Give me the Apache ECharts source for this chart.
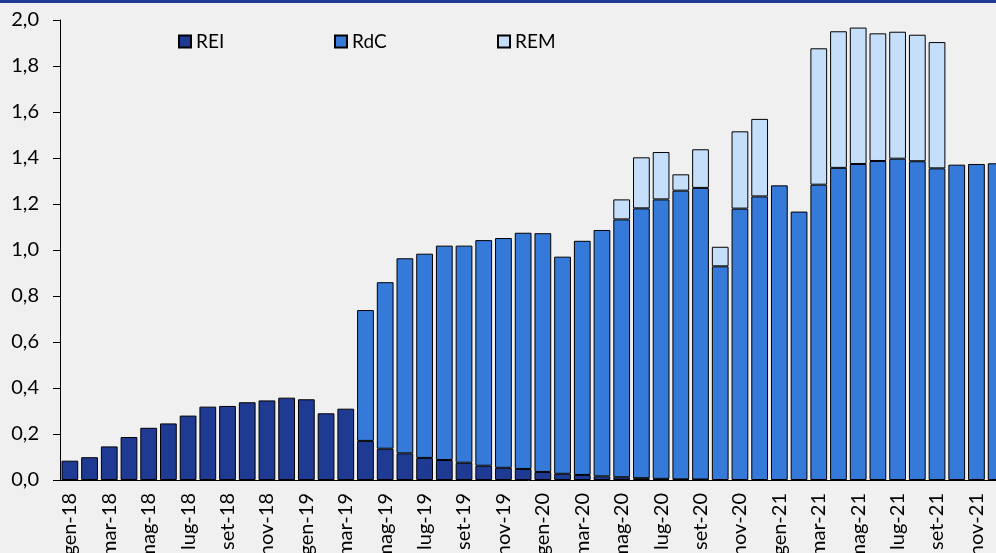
<!DOCTYPE html>
<html>
<head>
<meta charset="utf-8">
<script src="https://cdn.jsdelivr.net/npm/echarts@6/dist/echarts.min.js"></script>
<style>
	html, body { margin: 0; padding: 0; background: #f0f0f0; }
	#chart { width: 996px; height: 553px; }
</style>
</head>
<body>
<div id="chart"></div>
<script>
// mesi gen-18 .. dic-21
var months = ['gen', 'feb', 'mar', 'apr', 'mag', 'giu', 'lug', 'ago', 'set', 'ott', 'nov', 'dic'];
var years = ['18', '19', '20', '21'];
var categories = [];
for (var y = 0; y < years.length; y++) {
	for (var m = 0; m < months.length; m++) {
		categories.push(months[m] + '-' + years[y]);
	}
}

var reiData = [
	0.084, 0.099, 0.146, 0.187, 0.227, 0.246, 0.280, 0.319, 0.322, 0.338, 0.346, 0.358,
	0.351, 0.290, 0.310, 0.170, 0.136, 0.116, 0.096, 0.087, 0.075, 0.062, 0.053, 0.048,
	0.035, 0.027, 0.022, 0.016, 0.012, 0.008, 0.005, 0.003, 0.002, null, null, null,
	null, null, null, null, null, null, null, null, null, null, null, null
];
var rdcData = [
	null, null, null, null, null, null, null, null, null, null, null, null,
	null, null, null, 0.569, 0.724, 0.848, 0.888, 0.932, 0.944, 0.981, 0.999, 1.027,
	1.038, 0.944, 1.018, 1.071, 1.121, 1.173, 1.215, 1.255, 1.268, 0.929, 1.180, 1.233,
	1.281, 1.167, 1.284, 1.357, 1.374, 1.387, 1.397, 1.386, 1.355, 1.371, 1.374, 1.377
];
var remData = [
	null, null, null, null, null, null, null, null, null, null, null, null,
	null, null, null, null, null, null, null, null, null, null, null, null,
	null, null, null, null, 0.087, 0.222, 0.206, 0.071, 0.168, 0.085, 0.336, 0.337,
	null, null, 0.593, 0.594, 0.593, 0.555, 0.552, 0.550, 0.549, null, null, null
];

var chart = echarts.init(document.getElementById('chart'));

var fontFam = 'Lato, "Open Sans", sans-serif';

function legendAt(name, left) {
	return {
		data: [name],
		left: left,
		top: 32,
		padding: 0,
		icon: 'rect',
		itemWidth: 12,
		itemHeight: 12,
		itemGap: 5,
		selectedMode: false,
		textStyle: {
			color: '#000',
			fontSize: 19,
			fontFamily: fontFam
		}
	};
}

var option = {
	backgroundColor: '#f0f0f0',
	animation: false,
	graphic: [{
		type: 'rect',
		left: 0,
		top: 0,
		shape: { width: 996, height: 3 },
		style: { fill: '#1f3a93' }
	}],
	legend: [
		legendAt('REI', 178),
		legendAt('RdC', 334),
		legendAt('REM', 497)
	],
	grid: {
		left: 60,
		top: 20,
		width: 946,
		height: 460,
		containLabel: false,
		outerBoundsMode: 'none'
	},
	xAxis: {
		type: 'category',
		data: categories,
		axisTick: { show: false },
		axisLine: {
			show: true,
			lineStyle: { color: '#000', width: 1 }
		},
		axisLabel: {
			interval: 1,
			rotate: 90,
			margin: 13,
			color: '#000',
			fontSize: 20,
			fontFamily: fontFam
		}
	},
	yAxis: {
		type: 'value',
		min: 0,
		max: 2,
		interval: 0.2,
		splitLine: { show: false },
		axisLine: {
			show: true,
			lineStyle: { color: '#000', width: 1 }
		},
		axisTick: {
			show: true,
			length: 7,
			lineStyle: { color: '#000' }
		},
		axisLabel: {
			margin: 21,
			color: '#000',
			fontSize: 20,
			fontFamily: fontFam,
			formatter: function(v) {
				return v.toFixed(1).replace('.', ',');
			}
		}
	},
	series: [{
		name: 'REI',
		type: 'bar',
		stack: 'tot',
		barCategoryGap: '15%',
		data: reiData,
		itemStyle: { color: '#1f3a93', borderColor: '#000', borderWidth: 1 }
	}, {
		name: 'RdC',
		type: 'bar',
		stack: 'tot',
		barCategoryGap: '15%',
		data: rdcData,
		itemStyle: { color: '#3579d9', borderColor: '#000', borderWidth: 1 }
	}, {
		name: 'REM',
		type: 'bar',
		stack: 'tot',
		barCategoryGap: '15%',
		data: remData,
		itemStyle: { color: '#c5dffb', borderColor: '#000', borderWidth: 1 }
	}]
};
chart.setOption(option);
</script>
</body>
</html>
